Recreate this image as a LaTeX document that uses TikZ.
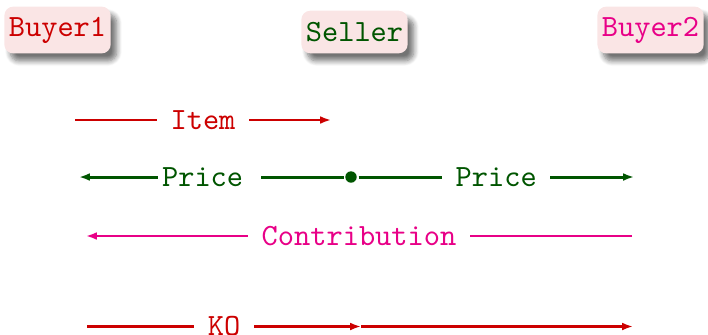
\documentclass[tikz,border=0pt]{standalone}
\usetikzlibrary{arrows.meta,shadows.blur}
\definecolor{cred}{RGB}{204,0,0}
\definecolor{cgreen}{RGB}{0,85,0}
\definecolor{cmag}{RGB}{232,0,135}
\definecolor{boxfill}{RGB}{250,229,229}

\begin{document}
\begin{tikzpicture}[x=0.3333pt,y=-0.3333pt,
  font=\ttfamily\fontsize{10.3}{12}\selectfont,
  actor/.style={rounded corners=3pt, fill=boxfill, inner xsep=1.5pt,
    minimum width=34.5pt,
    blur shadow={shadow xshift=2pt, shadow yshift=-2.5pt,
      shadow blur steps=8, shadow blur extra rounding=1pt, shadow opacity=55}},
  msg/.style={line width=0.7pt},
  msgg/.style={line width=1pt, cgreen},
  tip/.style={-{Latex[length=3.6pt,width=2.6pt]}},
  lbl/.style={fill=white, inner xsep=4.5pt, inner ysep=1pt}]
\useasboundingbox (0,0) rectangle (708,334);

% participants
\node[actor, text=cred,   minimum height=15.6pt] (b1) at (57.5,30)  {Buyer1};
\node[actor, text=cgreen, minimum height=14.2pt] (s)  at (354.5,32) {Seller};
\node[actor, text=cmag,   minimum height=15.6pt] (b2) at (650.5,30) {Buyer2};

% message end points
\coordinate (i1) at (75,120);
\coordinate (i2) at (331,120);
\coordinate (p1) at (79,177);
\coordinate (p2) at (634,177);
\coordinate (c1) at (632,236);
\coordinate (c2) at (86,236);
\coordinate (k1) at (87,326.5);
\coordinate (k2) at (361,326.5);
\coordinate (k3) at (633,326.5);

% Item
\draw[msg, cred, tip] (i1) -- node[lbl, text=cred] (li) {Item} (i2);

% Price, sent both ways from the seller
\node[circle, fill=cgreen, inner sep=0pt, minimum size=3.8pt, outer sep=0.6pt] (dot) at (351,177) {};
\draw[msgg, tip] (dot) -- node[lbl, pos=0.506, text=cgreen, inner xsep=0pt] (lp1) {\kern1.3pt Price\kern6pt} (p1);
\draw[msgg, tip] (dot) -- node[lbl, pos=0.5, text=cgreen] (lp2) {Price} (p2);

% Contribution
\draw[msg, cmag, tip] (c1) -- node[lbl, text=cmag] (lc) {Contribution} (c2);

% KO
\draw[msg, cred, tip] (k1) -- node[lbl, text=cred] (lk) {KO} (k2);
\draw[msg, cred, tip] (k2) -- (k3);
\end{tikzpicture}
\end{document}
